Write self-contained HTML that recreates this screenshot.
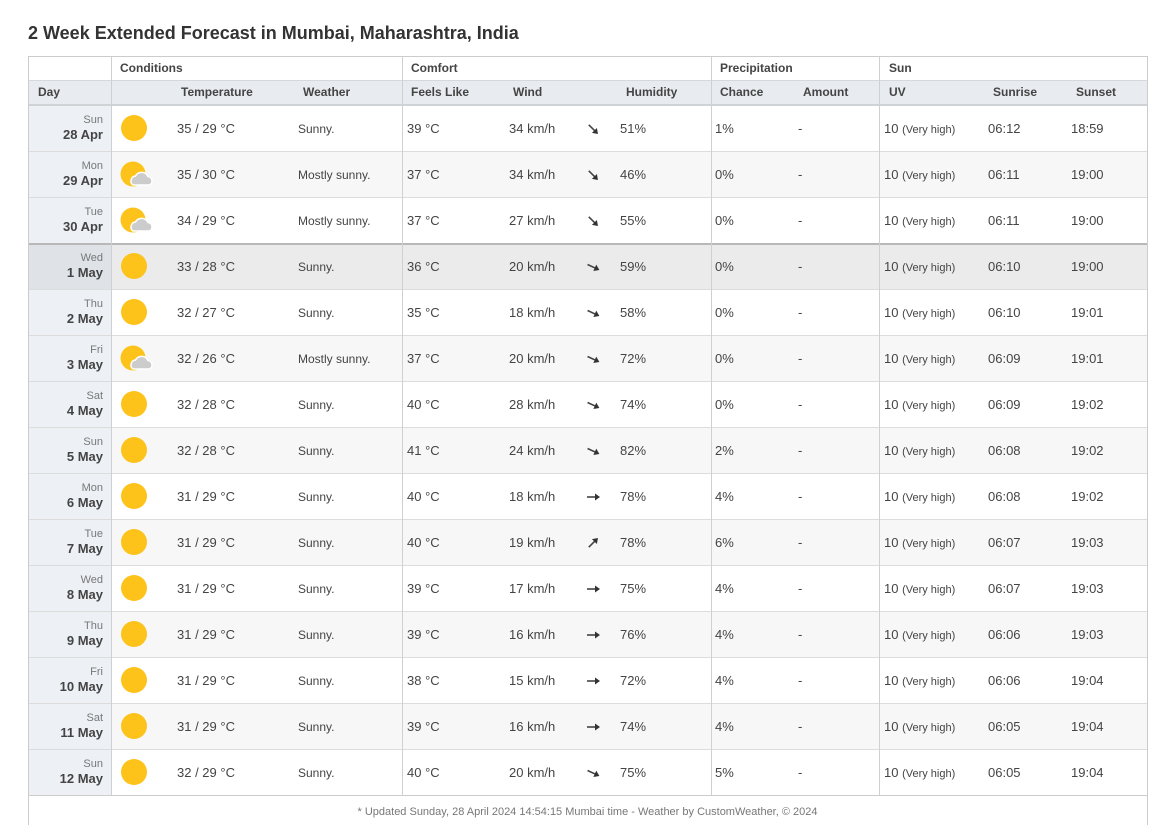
<!DOCTYPE html>
<html><head><meta charset="utf-8">
<style>
body{margin:0;width:1150px;height:824px;background:#fff;font-family:"Liberation Sans",Arial,sans-serif;color:#444;position:relative;overflow:hidden}
.a{position:absolute}
.t{position:absolute;font-size:13px;line-height:16px;white-space:nowrap}
.h{position:absolute;font-size:12px;font-weight:bold;color:#444;line-height:16px}
</style></head><body>
<div class="a" style="left:28px;top:23px;font-size:18px;font-weight:bold;color:#333">2 Week Extended Forecast in Mumbai, Maharashtra, India</div>
<div id="tbl" class="a" style="left:28px;top:56px;width:1118px;height:768px;border-left:1px solid #ccc;border-right:1px solid #ccc;border-top:1px solid #ccc"></div>
<script>
const days=["Sun","Mon","Tue","Wed","Thu","Fri","Sat","Sun","Mon","Tue","Wed","Thu","Fri","Sat","Sun"];
const dates=["28 Apr","29 Apr","30 Apr","1 May","2 May","3 May","4 May","5 May","6 May","7 May","8 May","9 May","10 May","11 May","12 May"];
const hi=[35,35,34,33,32,32,32,32,31,31,31,31,31,31,32];
const lo=[29,30,29,28,27,26,28,28,29,29,29,29,29,29,29];
const weather=["Sunny.","Mostly sunny.","Mostly sunny.","Sunny.","Sunny.","Mostly sunny.","Sunny.","Sunny.","Sunny.","Sunny.","Sunny.","Sunny.","Sunny.","Sunny.","Sunny."];
const feels=[39,37,37,36,35,37,40,41,40,40,39,39,38,39,40];
const wind=[34,34,27,20,18,20,28,24,18,19,17,16,15,16,20];
const windDir=[45,45,45,25,25,25,25,25,0,-45,0,0,0,0,25];
const humidity=[51,46,55,59,58,72,74,82,78,78,75,76,72,74,75];
const chance=[1,0,0,0,0,0,0,2,4,6,4,4,4,4,5];
const sunrise=["06:12","06:11","06:11","06:10","06:10","06:09","06:09","06:08","06:08","06:07","06:07","06:06","06:06","06:05","06:05"];
const sunset=["18:59","19:00","19:00","19:00","19:01","19:01","19:02","19:02","19:02","19:03","19:03","19:03","19:04","19:04","19:04"];
const B=document.body;
function box(x,y,w,h,bg,name){const d=document.createElement('div');d.className='a';d.style.cssText=`left:${x}px;top:${y}px;width:${w}px;height:${h}px;background:${bg}`;


B.appendChild(d);return d;}
function txt(x,y,s,name,cls,extra){const d=document.createElement('div');d.className=cls||'t';d.style.left=x+'px';d.style.top=y+'px';if(extra)d.style.cssText+=extra;d.innerHTML=s;


B.appendChild(d);return d;}
box(29,80,1118,24,'#e8ecf0','header-row');
box(29,104,1118,2,'#cfd3d6','header-border');
box(29,80,1118,1,'#d6d9dc','header-line');
[["Conditions",120],["Comfort",411],["Precipitation",720],["Sun",889]].forEach(g=>txt(g[1],60,g[0],'group-header','h'));
[["Day",38],["Temperature",181],["Weather",303],["Feels Like",411],["Wind",513],["Humidity",626],["Chance",720],["Amount",803],["UV",889],["Sunrise",993],["Sunset",1076]].forEach(c=>txt(c[1],84,c[0],'column-header','h'));
const R0=106,RH=46;
for(let i=0;i<15;i++){
 const y=R0+RH*i;
 const today=i===3;
 const bg=today?'#ebebeb':(i%2?'#f7f7f7':'#fff');
 box(29,y,1118,RH,bg,'row-'+dates[i].replace(' ','-').toLowerCase());
 box(29,y,82,RH,today?'#dfe3e7':'#edf1f5','day-cell');
 box(29,y+RH-1,1118,1,'#dcdcdc','row-border');
 if(today)box(29,y-1,1118,2,'#b8b8b8','today-border');
 const c=y+RH/2;
 txt(0,c-15,days[i],'day-name','t','width:103px;text-align:right;font-size:11px;color:#777;line-height:13px');
 txt(0,c-2,dates[i],'day-date','t','width:103px;text-align:right;font-size:13px;font-weight:bold;color:#444;line-height:16px');
 let ic;
 if(weather[i]==="Sunny.") ic=`<svg width="30" height="34"><circle cx="14" cy="14" r="13" fill="#fdc31a"/></svg>`;
 else ic=`<svg width="36" height="34"><circle cx="13" cy="14" r="12.5" fill="#fdc31a"/><path d="M13 25 a5 5 0 0 1 2.5-9 a7 7 0 0 1 12.5 0.5 a4.5 4.5 0 0 1 1.5 8.5 z" fill="#cccccc" stroke="#fff" stroke-width="1.5"/></svg>`;
 txt(120,c-15,ic,'weather-icon','a');
 txt(177,c-8,hi[i]+' / '+lo[i]+' °C','temperature');
 txt(298,c-8,weather[i],'weather-text','t','font-size:12px');
 txt(407,c-8,feels[i]+' °C','feels-like');
 txt(509,c-8,wind[i]+' km/h','wind-speed');
 txt(584,c-9,`<svg width="18" height="18" viewBox="-9 -9 18 18"><g transform="rotate(${windDir[i]})"><line x1="-6" y1="0" x2="4" y2="0" stroke="#444" stroke-width="1.6"/><path d="M7 0 L2 -3.5 L2 3.5 Z" fill="#333"/></g></svg>`,'wind-arrow','a');
 txt(620,c-8,humidity[i]+'%','humidity');
 txt(715,c-8,chance[i]+'%','precip-chance');
 txt(798,c-8,'-','precip-amount');
 txt(884,c-8,'10 <span style="font-size:11px">(Very high)</span>','uv-index');
 txt(988,c-8,sunrise[i],'sunrise');
 txt(1071,c-8,sunset[i],'sunset');
}
[111,402,711,879].forEach(x=>box(x,56,1,740,'#d0d0d0','column-divider'));
box(29,795,1118,1,'#ccc','footer-border');
txt(0,804,'* Updated Sunday, 28 April 2024 14:54:15 Mumbai time - Weather by CustomWeather, © 2024','footer-note','t','width:1175px;text-align:center;font-size:11px;color:#777');
document.getElementById('tbl').style.zIndex=5;
</script>
</body></html>
